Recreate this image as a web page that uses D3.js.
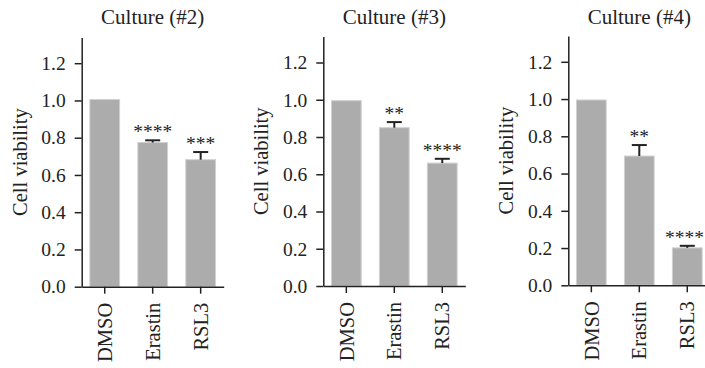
<!DOCTYPE html>
<html><head><meta charset="utf-8">
<script src="https://cdn.jsdelivr.net/npm/d3@7"></script>
<style>
html,body{margin:0;padding:0;background:#fff;}
svg text{font-family:"Liberation Serif","Tinos","DejaVu Serif","Times New Roman",Times,serif;fill:#222;}
</style></head>
<body>
<div id="chart"></div>
<script>
const categories = ["DMSO", "Erastin", "RSL3"];
const cultures = ["Culture (#2)", "Culture (#3)", "Culture (#4)"];
const means2 = [1.005, 0.774, 0.682];
const means3 = [0.995, 0.850, 0.660];
const means4 = [0.995, 0.694, 0.201];
const err2 = [0, 0.012, 0.041];
const err3 = [0, 0.030, 0.023];
const err4 = [0, 0.059, 0.011];
const stars2 = ["", "****", "***"];
const stars3 = ["", "**", "****"];
const stars4 = ["", "**", "****"];
const yTicks = [0, 0.2, 0.4, 0.6, 0.8, 1.0, 1.2];
const yLabel = "Cell viability";

const FONT = '"Liberation Serif","Tinos","DejaVu Serif","Times New Roman",Times,serif';
const W = 705, H = 368;
const svg = d3.select("#chart").append("svg").attr("width", W).attr("height", H);

const panels = [
  {title: cultures[0], means: means2, errs: err2, stars: stars2, ax: 81.7, y0: 286.7, top: 37.5},
  {title: cultures[1], means: means3, errs: err3, stars: stars3, ax: 323.3, y0: 286, top: 36.5},
  {title: cultures[2], means: means4, errs: err4, stars: stars4, ax: 568.3, y0: 285.3, top: 36}
];

panels.forEach(p => {
  const g = svg.append("g");
  const y = d3.scaleLinear().domain([0, 1.2]).range([p.y0, p.y0 - 223.5]);
  const yMax = y.invert(p.top);
  y.domain([0, yMax]).range([p.y0, p.top]);
  const x = d3.scaleBand().domain(categories).range([p.ax, p.ax + 142])
    .paddingInner(0.38).paddingOuter(0.17);

  g.selectAll("rect.bar").data(categories).enter().append("rect")
    .attr("class", "bar")
    .attr("x", d => x(d))
    .attr("width", x.bandwidth())
    .attr("y", (d, i) => y(p.means[i]))
    .attr("height", (d, i) => y(0) - y(p.means[i]))
    .attr("fill", "#acacac")
    .attr("stroke", "#d0d0d0")
    .attr("stroke-width", 1);

  categories.forEach((c, i) => {
    if (p.errs[i] <= 0) return;
    const cx = x(c) + x.bandwidth() / 2;
    g.append("line").attr("x1", cx).attr("x2", cx)
      .attr("y1", y(p.means[i])).attr("y2", y(p.means[i] + p.errs[i]))
      .attr("stroke", "#222").attr("stroke-width", 2);
    g.append("line").attr("x1", cx - 7.5).attr("x2", cx + 7.5)
      .attr("y1", y(p.means[i] + p.errs[i])).attr("y2", y(p.means[i] + p.errs[i]))
      .attr("stroke", "#222").attr("stroke-width", 2);
    const t = g.append("text")
      .attr("x", cx).attr("y", y(p.means[i] + p.errs[i]) - 2)
      .attr("text-anchor", "middle")
      .attr("font-size", 19.5)
      .attr("font-family", FONT)
      .attr("fill", "#555")
      .text(p.stars[i]);
    const bb = t.node().getBBox();
    if (bb.x + bb.width > W - 1) t.attr("x", cx - (bb.x + bb.width - (W - 1)));
  });

  const yAxis = d3.axisLeft(y).tickValues(yTicks).tickFormat(d3.format(".1f"))
    .tickSize(7).tickSizeOuter(0).tickPadding(9);
  const ya = g.append("g").attr("transform", `translate(${p.ax},0)`).call(yAxis);
  ya.attr("font-family", null);
  ya.selectAll("text").attr("font-size", 19.5).attr("font-family", FONT).attr("fill", "#222");
  ya.selectAll("line").attr("stroke", "#222").attr("stroke-width", 1.5);
  ya.select(".domain").attr("stroke", "#222").attr("stroke-width", 1.5);

  const xAxis = d3.axisBottom(x).tickSize(7).tickSizeOuter(0).tickPadding(9);
  const xa = g.append("g").attr("transform", `translate(0,${p.y0})`).call(xAxis);
  xa.attr("font-family", null);
  xa.select(".domain").attr("stroke", "#222").attr("stroke-width", 1.5);
  xa.selectAll("line").attr("stroke", "#222").attr("stroke-width", 1.5);
  xa.selectAll("text")
    .attr("font-size", 20.5).attr("font-family", FONT).attr("fill", "#222")
    .attr("transform", "rotate(-90)")
    .attr("text-anchor", "end")
    .attr("x", -16).attr("y", 0).attr("dy", "0.35em");

  g.append("text")
    .attr("transform", `translate(${p.ax - 62},${(p.y0 + p.top) / 2}) rotate(-90)`)
    .attr("text-anchor", "middle").attr("dy", "0.35em")
    .attr("font-size", 20.5)
    .attr("font-family", FONT)
    .text(yLabel);

  g.append("text")
    .attr("x", x(categories[1]) + x.bandwidth() / 2).attr("y", 24)
    .attr("text-anchor", "middle")
    .attr("font-size", 21)
    .attr("font-family", FONT)
    .text(p.title);
});
</script>
</body></html>
